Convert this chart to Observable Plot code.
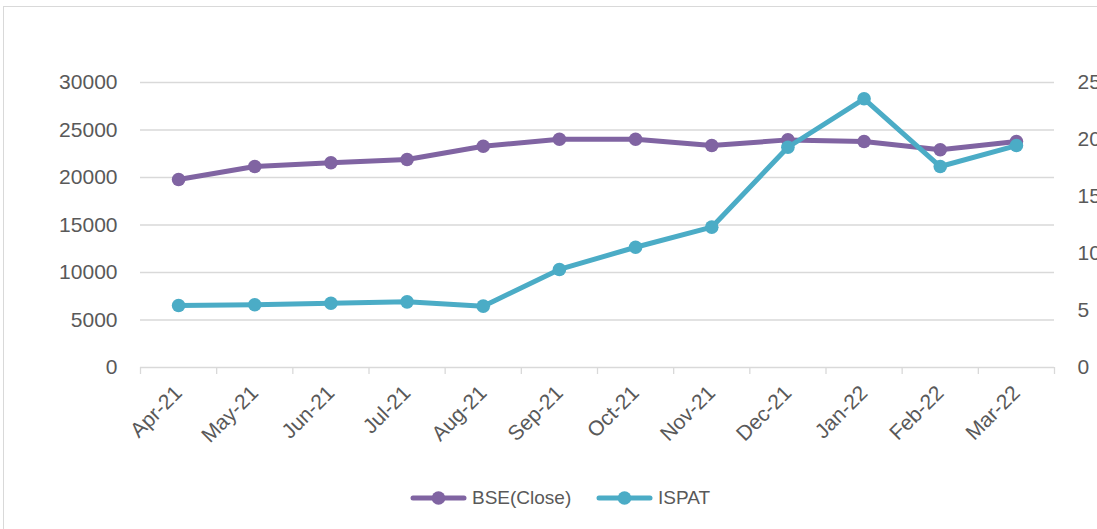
<!DOCTYPE html>
<html>
<head>
<meta charset="utf-8">
<script src="https://cdn.jsdelivr.net/npm/d3@7"></script>
<script src="https://cdn.jsdelivr.net/npm/@observablehq/plot@0.6"></script>
<style>
  html, body { margin: 0; padding: 0; width: 1097px; height: 529px; overflow: hidden; background: #fff; }
  #frame { position: absolute; left: 3px; top: 6px; width: 1200px; height: 700px; border: 1px solid #d9d9d9; box-sizing: border-box; }
  #chart { position: absolute; left: 0; top: 0; }
  #legend { position: absolute; left: 410px; top: 484px; height: 28px; font-family: "Liberation Sans", sans-serif; font-size: 19px; color: #595959; }
  .item { position: absolute; top: 0; display: flex; align-items: center; height: 28px; white-space: nowrap; }
  .item svg { margin-right: 4px; }
</style>
</head>
<body>
<div id="frame"></div>
<div id="chart"></div>
<div id="legend"></div>
<script>
const months = ["Apr-21","May-21","Jun-21","Jul-21","Aug-21","Sep-21","Oct-21","Nov-21","Dec-21","Jan-22","Feb-22","Mar-22"];
const bse = [19790, 21160, 21550, 21890, 23290, 24030, 24030, 23370, 23960, 23790, 22920, 23790];
const ispat = [5.44, 5.50, 5.64, 5.76, 5.38, 8.60, 10.55, 12.31, 19.32, 23.57, 17.63, 19.47];
const leftTicks = [0, 5000, 10000, 15000, 20000, 25000, 30000];
const rightTicks = [0, 5, 10, 15, 20, 25];
const seriesNames = ["BSE(Close)", "ISPAT"];
const colors = ["#8064A2", "#4BACC6"];

const leftMax = 30000, rightMax = 25;
const ratio = leftMax / rightMax;

const data = months.map((m, i) => ({ i, m, bse: bse[i], ispat: ispat[i] * ratio }));
const idx = months.map((_, i) => i);
const bounds = months.map((_, i) => i - 0.5).concat([months.length - 0.5]);

const font = "'Liberation Sans', Arial, sans-serif";

const chart = Plot.plot({
  width: 1097,
  height: 460,
  marginLeft: 140,
  marginRight: 43,
  marginTop: 82,
  marginBottom: 93,
  style: { fontFamily: font, fontSize: "21px", color: "#595959", background: "transparent", overflow: "visible" },
  x: { type: "linear", domain: [-0.5, months.length - 0.5], label: null },
  y: { domain: [0, leftMax], label: null },
  marks: [
    Plot.ruleY(leftTicks, { stroke: "#d9d9d9", strokeWidth: 1.3 }),
    Plot.axisX({ ticks: bounds, tickSize: 7, tickFormat: () => "", stroke: "#d9d9d9", strokeWidth: 1.3, strokeOpacity: 1, label: null }),
    Plot.axisX({ ticks: idx, tickSize: 0, tickPadding: 22, tickRotate: -45, tickFormat: i => months[i], label: null }),
    Plot.axisY({ ticks: leftTicks, tickSize: 0, tickPadding: 23, tickFormat: d => String(d), label: null }),
    Plot.axisY({ anchor: "right", ticks: rightTicks.map(v => v * ratio), tickSize: 0, tickPadding: 23, tickFormat: d => String(Math.round(d / ratio)), label: null }),
    Plot.line(data, { x: "i", y: "bse", stroke: colors[0], strokeWidth: 5, strokeLinejoin: "round", strokeLinecap: "round" }),
    Plot.dot(data, { x: "i", y: "bse", r: 6.8, fill: colors[0], stroke: null }),
    Plot.line(data, { x: "i", y: "ispat", stroke: colors[1], strokeWidth: 5, strokeLinejoin: "round", strokeLinecap: "round" }),
    Plot.dot(data, { x: "i", y: "ispat", r: 6.8, fill: colors[1], stroke: null })
  ]
});
document.getElementById("chart").appendChild(chart);

// legend
const legend = document.getElementById("legend");
const offsets = [0, 186];
seriesNames.forEach((name, k) => {
  const item = document.createElement("div");
  item.className = "item";
  item.style.left = offsets[k] + "px";
  item.innerHTML = `<svg width="58" height="16"><line x1="3" y1="8" x2="54" y2="8" stroke="${colors[k]}" stroke-width="5" stroke-linecap="round"/><circle cx="28.5" cy="8" r="6.8" fill="${colors[k]}"/></svg><span>${name}</span>`;
  legend.appendChild(item);
});
</script>
</body>
</html>
